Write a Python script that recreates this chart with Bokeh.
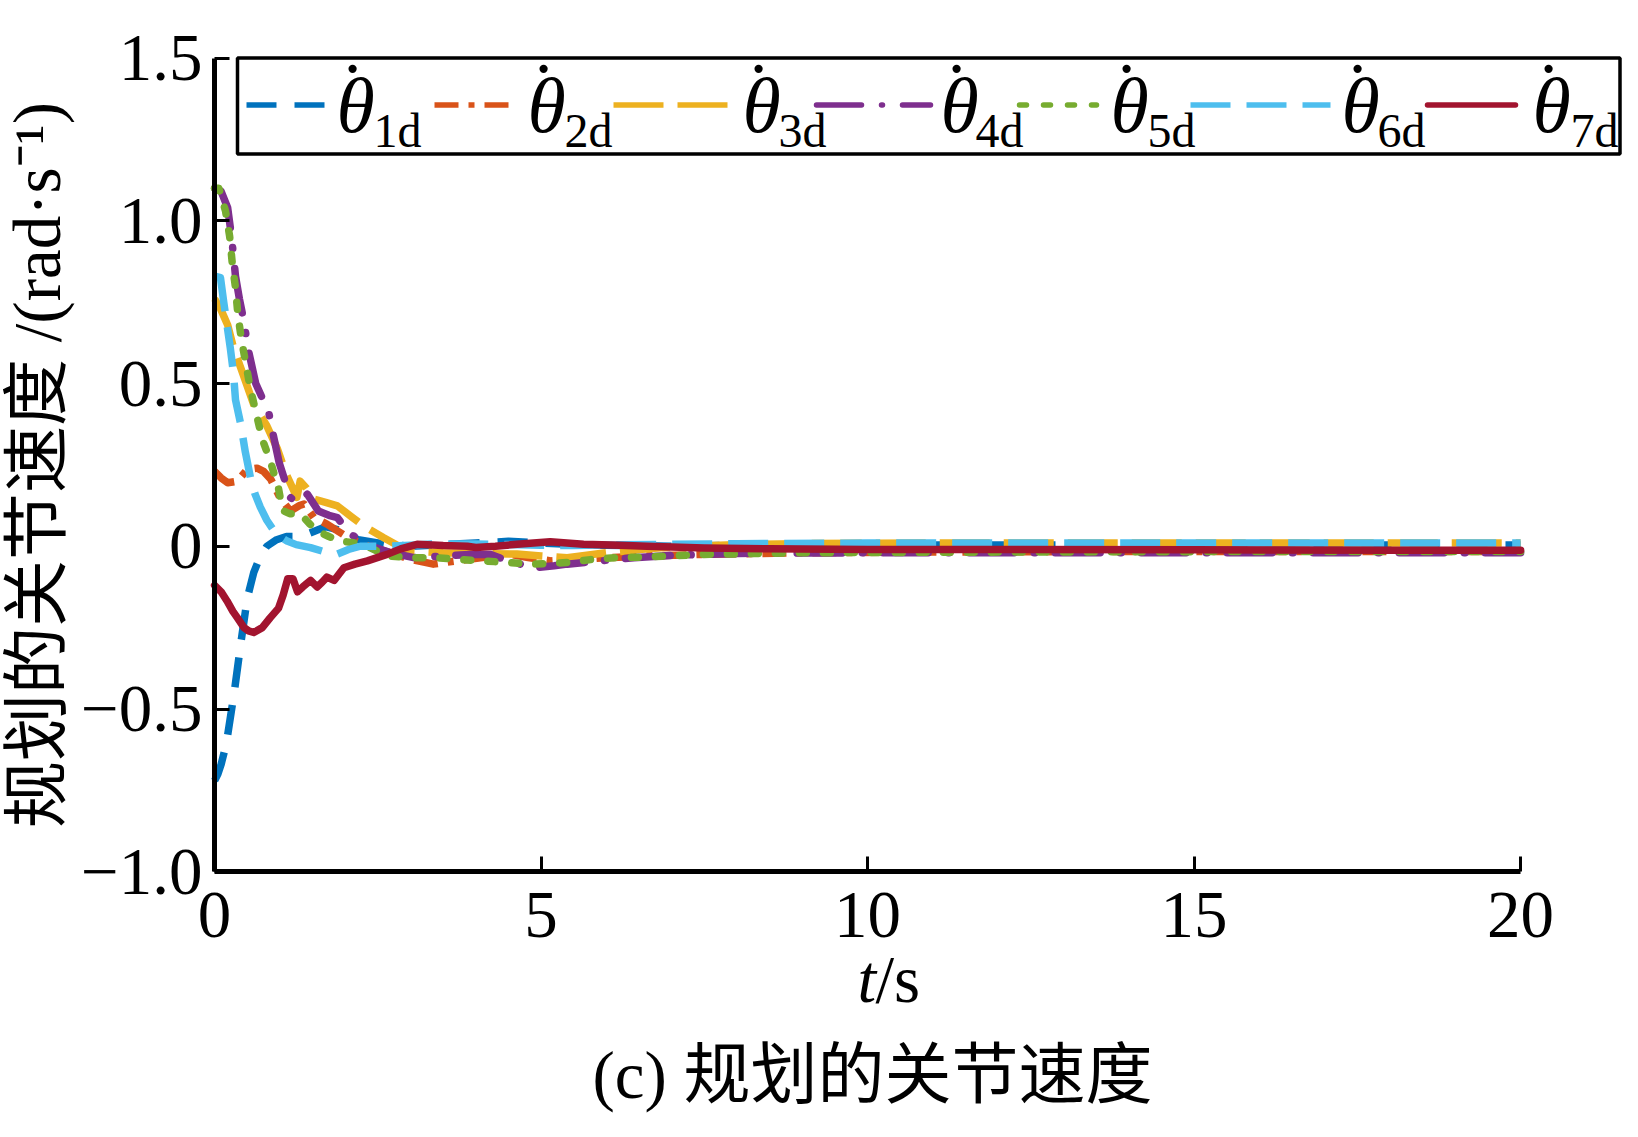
from bokeh.plotting import figure
from bokeh.models import Range1d, FixedTicker, BoxAnnotation, Label, Arrow
from bokeh.embed import file_html
from bokeh.resources import INLINE

# ---------------- data ----------------
t1 = [0, 0.05, 0.1, 0.15, 0.2, 0.3, 0.4, 0.5, 0.6, 0.7, 0.8, 0.95, 1.1, 1.25, 1.45, 1.7, 1.9,
      2.2, 2.6, 3.0, 3.5, 4.0, 4.5, 5.0, 5.5, 6.0, 7.0, 8.0, 10.0, 12.0, 14.0, 16.0, 18.0, 20.0]
v1 = [-0.72, -0.70, -0.67, -0.63, -0.58, -0.45, -0.30, -0.16, -0.08, -0.03, 0.00, 0.02, 0.03,
      0.03, 0.04, 0.06, 0.05, 0.02, 0.007, 0.0, 0.005, 0.01, 0.015, 0.01, 0.005, 0.003, 0.0,
      0.003, 0.004, 0.004, 0.004, 0.004, 0.004, 0.004]

t2 = [0, 0.1, 0.2, 0.35, 0.5, 0.65, 0.75, 0.86, 1.0, 1.16, 1.3, 1.37, 1.52, 1.72, 1.9, 2.05,
      2.35, 2.7, 3.0, 3.35, 3.7, 4.1, 4.5, 4.8, 5.15, 5.6, 6.0, 6.6, 7.5, 9.0, 11.0, 14.0, 17.0, 20.0]
v2 = [0.23, 0.21, 0.195, 0.20, 0.236, 0.24, 0.23, 0.206, 0.15, 0.108, 0.125, 0.13, 0.088,
      0.068, 0.045, 0.026, 0.0, -0.02, -0.04, -0.055, -0.045, -0.035, -0.024, -0.035, -0.045,
      -0.04, -0.035, -0.03, -0.025, -0.02, -0.018, -0.016, -0.016, -0.016]

t3 = [0, 0.09, 0.2, 0.29, 0.45, 0.6, 0.8, 0.96, 1.1, 1.26, 1.31, 1.4, 1.52, 1.7, 1.88, 2.1, 2.3,
      2.59, 2.95, 3.5, 4.0, 4.63, 5.0, 5.4, 6.0, 6.5, 7.0, 8.0, 9.0, 11.0, 14.0, 17.0, 20.0]
v3 = [0.76, 0.73, 0.68, 0.61, 0.52, 0.435, 0.37, 0.30, 0.22, 0.15, 0.20, 0.18, 0.145, 0.135,
      0.124, 0.09, 0.06, 0.026, -0.014, -0.02, -0.022, -0.024, -0.03, -0.035, -0.02, -0.01,
      -0.002, 0.005, 0.008, 0.01, 0.01, 0.01, 0.01]

t4 = [0, 0.1, 0.2, 0.26, 0.32, 0.38, 0.44, 0.52, 0.63, 0.73, 0.83, 0.9, 0.99, 1.08, 1.16, 1.26,
      1.42, 1.59, 1.75, 1.88, 2.08, 2.4, 2.7, 3.05, 3.5, 3.9, 4.22, 4.5, 4.89, 5.2, 5.4, 5.9,
      6.42, 7.0, 8.0, 10.0, 13.0, 16.0, 20.0]
v4 = [1.10, 1.09, 1.04, 0.95, 0.83, 0.76, 0.70, 0.60, 0.50, 0.455, 0.41, 0.34, 0.256, 0.20,
      0.15, 0.134, 0.16, 0.108, 0.095, 0.088, 0.037, 0.0, -0.02, -0.035, -0.03, -0.025, -0.025,
      -0.045, -0.066, -0.06, -0.055, -0.045, -0.035, -0.028, -0.022, -0.02, -0.02, -0.02, -0.02]

t5 = [0, 0.065, 0.167, 0.23, 0.27, 0.32, 0.356, 0.41, 0.48, 0.55, 0.64, 0.73, 0.86, 0.98, 1.04,
      1.15, 1.31, 1.45, 1.57, 1.75, 1.93, 2.15, 2.34, 2.64, 3.0, 3.35, 3.7, 4.12, 4.5, 4.89,
      5.4, 5.8, 6.17, 6.6, 7.5, 9.0, 12.0, 16.0, 20.0]
v5 = [1.10, 1.10, 1.03, 0.953, 0.871, 0.794, 0.713, 0.636, 0.559, 0.482, 0.406, 0.329, 0.257,
      0.176, 0.11, 0.10, 0.10, 0.07, 0.047, 0.03, 0.016, 0.01, 0.0, -0.03, -0.035, -0.035,
      -0.04, -0.045, -0.05, -0.055, -0.05, -0.04, -0.035, -0.033, -0.025, -0.02, -0.018,
      -0.016, -0.016]

t6 = [0, 0.09, 0.14, 0.19, 0.24, 0.29, 0.32, 0.4, 0.47, 0.55, 0.62, 0.70, 0.8, 0.91, 1.0, 1.11,
      1.25, 1.47, 1.65, 1.88, 2.05, 2.23, 2.64, 3.0, 3.35, 4.0, 4.5, 5.0, 5.5, 6.0, 7.0, 8.0,
      10.0, 13.0, 16.0, 20.0]
v6 = [0.83, 0.825, 0.75, 0.68, 0.61, 0.53, 0.45, 0.375, 0.29, 0.21, 0.16, 0.12, 0.08, 0.047,
      0.03, 0.016, 0.005, -0.004, -0.015, -0.024, -0.01, 0.0, 0.0, 0.003, 0.007, 0.007, 0.005,
      0.003, 0.002, 0.004, 0.006, 0.008, 0.01, 0.01, 0.01, 0.01]

t7 = [0, 0.1, 0.19, 0.28, 0.35, 0.45, 0.52, 0.6, 0.73, 0.85, 0.98, 1.05, 1.12, 1.2, 1.27, 1.35,
      1.47, 1.57, 1.65, 1.72, 1.83, 1.98, 2.15, 2.34, 2.64, 2.85, 3.1, 3.5, 3.87, 4.0, 4.3,
      4.63, 5.14, 5.65, 6.2, 6.62, 7.5, 8.5, 10.0, 12.0, 15.0, 18.0, 20.0]
v7 = [-0.12, -0.14, -0.168, -0.20, -0.22, -0.25, -0.26, -0.265, -0.25, -0.22, -0.19, -0.15,
      -0.10, -0.10, -0.14, -0.125, -0.105, -0.125, -0.11, -0.095, -0.105, -0.066, -0.055,
      -0.045, -0.025, -0.008, 0.006, 0.002, 0.0, -0.004, 0.0, 0.006, 0.014, 0.006, 0.003, 0.0,
      -0.005, -0.008, -0.01, -0.01, -0.011, -0.012, -0.012]

series_t = [t1, t2, t3, t4, t5, t6, t7]
series_v = [v1, v2, v3, v4, v5, v6, v7]
series_sub = ["1d", "2d", "3d", "4d", "5d", "6d", "7d"]

x_ticks = [0, 5, 10, 15, 20]
y_ticks = [-1.0, -0.5, 0, 0.5, 1.0, 1.5]
y_tick_labels = ["\u22121.0", "\u22120.5", "0", "0.5", "1.0", "1.5"]

y_title = "规划的关节速度 /(rad·s\u207b\u00b9)"
x_title_italic = "t"
x_title_rest = "/s"
caption = "(c) 规划的关节速度"

# ---------------- styles ----------------
colors = ["#0072BD", "#D95319", "#EDB120", "#7E2F8E", "#77AC30", "#4DBEEE", "#A2142F"]
dashes = ["30 18", "24 10 6 10", "50 14", "45 20 1 20", "7 17", "40 16", "solid"]
caps = ["butt", "butt", "butt", "round", "round", "butt", "round"]

SERIF = "Liberation Serif"
MIXED = "Liberation Serif, Noto Sans CJK SC"

W, H = 1636, 1134
# page px -> data helpers (layout only: legend, titles)
X0_PX, XS = 214.1, 65.3      # x = 0 at 214 px, 65.3 px per second
Y0_PX, YS = 57.5, 325.5      # y = 1.5 at 57.5 px, 325.5 px per unit
def dx(px):
    return (px - X0_PX) / XS
def dy(py):
    return 1.5 - (py - Y0_PX) / YS

p = figure(width=W, height=H, output_backend="svg", toolbar_location=None,
           x_range=Range1d(dx(0), dx(W)), y_range=Range1d(dy(H), dy(0)),
           min_border=0)
p.outline_line_color = None
p.xgrid.visible = False
p.ygrid.visible = False
p.background_fill_color = "white"
p.border_fill_color = "white"

for ax in (p.xaxis[0], p.yaxis[0]):
    ax.axis_line_width = 5
    ax.axis_line_color = "black"
    ax.major_tick_line_width = 3
    ax.major_tick_line_color = "black"
    ax.major_tick_in = 15
    ax.major_tick_out = 0
    ax.minor_tick_line_color = None
    ax.major_label_text_font = SERIF
    ax.major_label_text_font_size = "67px"
    ax.major_label_text_color = "black"

p.xaxis.ticker = FixedTicker(ticks=x_ticks)
p.xaxis.bounds = (0, 20)
p.xaxis.fixed_location = -1.0
p.xaxis.major_label_standoff = 21

p.yaxis.ticker = FixedTicker(ticks=y_ticks)
p.yaxis.bounds = (-1.0, 1.5)
p.yaxis.fixed_location = 0
p.yaxis.major_label_overrides = {k: v for k, v in zip(y_ticks, y_tick_labels)}
p.yaxis.major_label_standoff = 12
p.yaxis.axis_label = y_title
p.yaxis.axis_label_text_font = MIXED
p.yaxis.axis_label_text_font_size = "67px"
p.yaxis.axis_label_text_font_style = "normal"
p.yaxis.axis_label_text_color = "black"
p.yaxis.axis_label_standoff = 4

for t, v, c, d, cap in zip(series_t, series_v, colors, dashes, caps):
    p.line(t, v, line_color=c, line_width=7.5, line_dash=d, line_cap=cap, line_join="round")

# ---------------- legend (drawn by hand, layout only) ----------------
p.add_layout(BoxAnnotation(left=dx(237), right=dx(1619.5), top=1.5, bottom=dy(153.6),
                           fill_color=None, fill_alpha=0, line_color="black",
                           line_alpha=1.0, line_width=3.5))
sample_x = [(246, 330), (434, 517), (613, 731), (816, 930), (1019, 1096), (1190, 1330), (1427, 1515)]
theta_x = [336, 527, 742, 940, 1110, 1341, 1532]
sub_x = [373, 564, 778, 975, 1147, 1377, 1570]
for (a, b), c, d, cap, tx, sx, sub in zip(sample_x, colors, dashes, caps, theta_x, sub_x, series_sub):
    p.add_layout(Arrow(end=None, x_start=dx(a), y_start=dy(104.5), x_end=dx(b), y_end=dy(104.5),
                       line_color=c, line_width=5.5, line_dash=d, line_cap=cap))
    p.add_layout(Label(x=dx(tx), y=dy(105), text="\u03b8", text_font=SERIF,
                       text_font_style="italic", text_font_size="78px", text_color="black",
                       text_align="left", text_baseline="alphabetic"))
    p.add_layout(Label(x=dx(tx + 3), y=dy(90), text="\u02d9", text_font=SERIF,
                       text_font_size="78px", text_color="black",
                       text_align="left", text_baseline="alphabetic"))
    p.add_layout(Label(x=dx(sx), y=dy(130), text=sub, text_font=SERIF,
                       text_font_size="48px", text_color="black",
                       text_align="left", text_baseline="alphabetic"))

# ---------------- x title and caption ----------------
p.add_layout(Label(x=dx(857), y=dy(978), text=x_title_italic, text_font=SERIF,
                   text_font_style="italic", text_font_size="67px", text_color="black",
                   text_align="left", text_baseline="alphabetic"))
p.add_layout(Label(x=dx(875), y=dy(978), text=x_title_rest, text_font=SERIF,
                   text_font_size="67px", text_color="black",
                   text_align="left", text_baseline="alphabetic"))
p.add_layout(Label(x=dx(872), y=dy(1074), text=caption, text_font=MIXED,
                   text_font_size="67px", text_color="black",
                   text_align="center", text_baseline="alphabetic"))

open("out.html", "w").write(file_html(p, INLINE))
